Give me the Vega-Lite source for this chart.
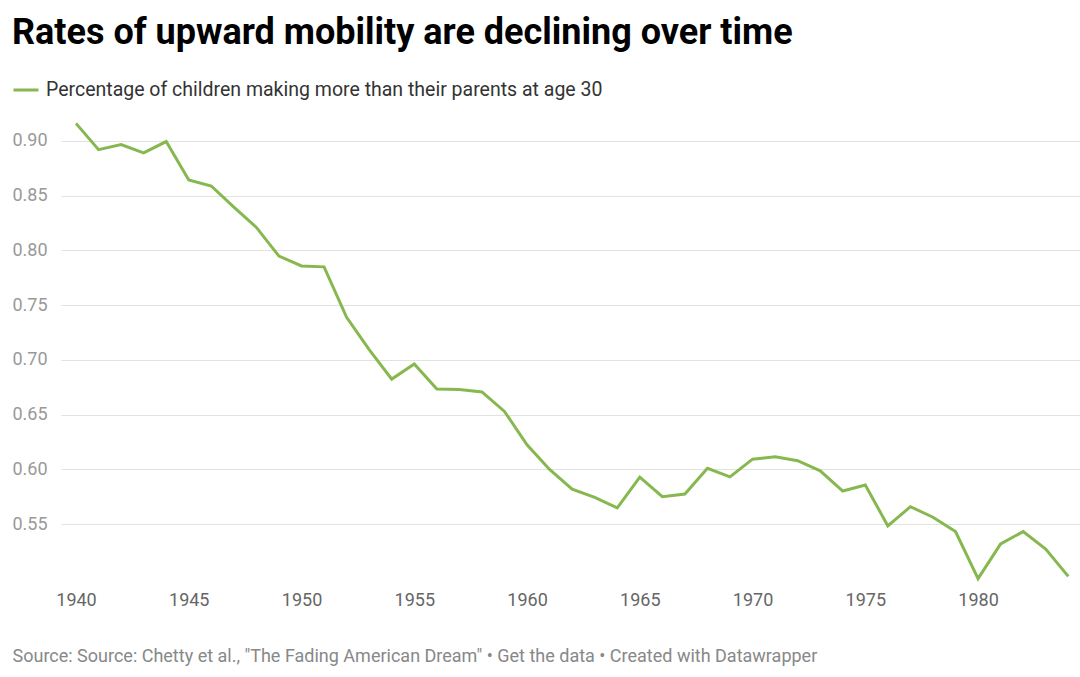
{
  "$schema": "https://vega.github.io/schema/vega-lite/v6.json",
  "width": 1019,
  "height": 460,
  "autosize": {"type": "none"},
  "padding": {"left": 61, "top": 119, "right": 0, "bottom": 98},
  "background": "#ffffff",
  "config": {
    "view": {"stroke": null},
    "font": "Roboto"
  },
  "title": {
    "text": "Rates of upward mobility are declining over time",
    "anchor": "start",
    "frame": "group",
    "dx": -49,
    "offset": -4,
    "baseline": "alphabetic",
    "font": "Roboto",
    "fontSize": 36,
    "fontWeight": "bold",
    "color": "#000000"
  },
  "data": {
    "values": [
      {"year": 1940, "share": 0.916},
      {"year": 1941, "share": 0.892},
      {"year": 1942, "share": 0.8966},
      {"year": 1943, "share": 0.889},
      {"year": 1944, "share": 0.8994},
      {"year": 1945, "share": 0.8644},
      {"year": 1946, "share": 0.8588},
      {"year": 1947, "share": 0.8395},
      {"year": 1948, "share": 0.821},
      {"year": 1949, "share": 0.7948},
      {"year": 1950, "share": 0.7858},
      {"year": 1951, "share": 0.785},
      {"year": 1952, "share": 0.739},
      {"year": 1953, "share": 0.7095},
      {"year": 1954, "share": 0.6825},
      {"year": 1955, "share": 0.6963},
      {"year": 1956, "share": 0.6735},
      {"year": 1957, "share": 0.673},
      {"year": 1958, "share": 0.6708},
      {"year": 1959, "share": 0.653},
      {"year": 1960, "share": 0.6225},
      {"year": 1961, "share": 0.6},
      {"year": 1962, "share": 0.582},
      {"year": 1963, "share": 0.5745},
      {"year": 1964, "share": 0.565},
      {"year": 1965, "share": 0.593},
      {"year": 1966, "share": 0.5752},
      {"year": 1967, "share": 0.5776},
      {"year": 1968, "share": 0.601},
      {"year": 1969, "share": 0.5933},
      {"year": 1970, "share": 0.6094},
      {"year": 1971, "share": 0.6115},
      {"year": 1972, "share": 0.608},
      {"year": 1973, "share": 0.5988},
      {"year": 1974, "share": 0.5803},
      {"year": 1975, "share": 0.5858},
      {"year": 1976, "share": 0.5485},
      {"year": 1977, "share": 0.566},
      {"year": 1978, "share": 0.5564},
      {"year": 1979, "share": 0.5433},
      {"year": 1980, "share": 0.5003},
      {"year": 1981, "share": 0.5321},
      {"year": 1982, "share": 0.5433},
      {"year": 1983, "share": 0.5273},
      {"year": 1984, "share": 0.5024}
    ]
  },
  "mark": {"type": "line", "strokeWidth": 3, "strokeJoin": "miter", "clip": false},
  "encoding": {
    "x": {
      "field": "year",
      "type": "quantitative",
      "scale": {"domain": [1939.335, 1984.52], "nice": false, "zero": false},
      "axis": {
        "values": [1940, 1945, 1950, 1955, 1960, 1965, 1970, 1975, 1980],
        "format": "d",
        "domain": false,
        "ticks": false,
        "grid": false,
        "labelFont": "Roboto",
        "labelFontSize": 18,
        "labelColor": "#666666",
        "labelPadding": 12,
        "title": "Source: Source: Chetty et al., \"The Fading American Dream\" • Get the data • Created with Datawrapper",
        "titleFont": "Roboto",
        "titleFontSize": 18,
        "titleFontWeight": "normal",
        "titleColor": "#888888",
        "titleAnchor": "start",
        "titleAlign": "left",
        "titleBaseline": "alphabetic",
        "titleX": -49,
        "titleY": 82
      }
    },
    "y": {
      "field": "share",
      "type": "quantitative",
      "scale": {"domain": [0.5, 0.92], "nice": false, "zero": false},
      "axis": {
        "values": [0.55, 0.6, 0.65, 0.7, 0.75, 0.8, 0.85, 0.9],
        "format": ".2f",
        "domain": false,
        "ticks": false,
        "grid": true,
        "gridColor": "#e2e2e2",
        "gridWidth": 1,
        "labelFont": "Roboto",
        "labelFontSize": 18,
        "labelColor": "#999999",
        "labelAlign": "left",
        "labelBaseline": "middle",
        "labelPadding": 49,
        "title": null
      }
    },
    "color": {
      "datum": "Percentage of children making more than their parents at age 30",
      "type": "nominal",
      "scale": {"range": ["#86b84f"]},
      "legend": {
        "title": null,
        "orient": "none",
        "legendX": -49,
        "legendY": -43,
        "symbolType": "stroke",
        "symbolSize": 625,
        "symbolStrokeWidth": 3,
        "labelFont": "Roboto",
        "labelFontSize": 19.5,
        "labelColor": "#333333",
        "labelOffset": 6,
        "labelLimit": 800,
        "padding": 0
      }
    }
  }
}
